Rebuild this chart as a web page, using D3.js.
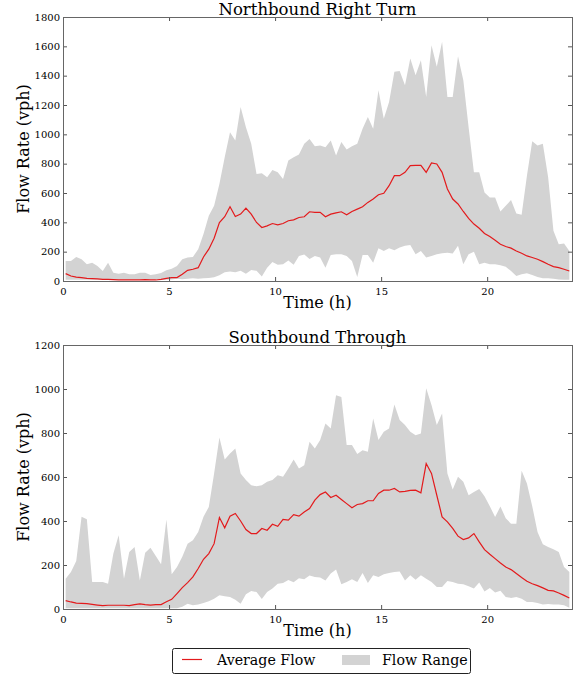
<!DOCTYPE html>
<html lang="en">
<head>
<meta charset="utf-8" />
<title>Flow Rate</title>
<script src="https://cdn.jsdelivr.net/npm/d3@7"></script>
<style>
  body { margin: 0; background: #fff; }
  text { font-family: "DejaVu Serif", serif; fill: #000; }
</style>
</head>
<body>
<svg id="chart" width="576" height="679"></svg>
<script>
// 15-minute bins over the day, plotted at bin centres
const times = d3.range(96).map(i => 0.125 + i * 0.25);
const xTicks = [0, 5, 10, 15, 20];

// Northbound Right Turn
const nbMean = [50,34,27,23,18,16,14,11,11,9,7,7,7,7,7,9,7,7,11,18,23,23,46,73,80,91,164,217,292,399,438,506,
  440,456,497,456,399,365,376,392,383,392,411,417,433,438,472,468,468,438,456,465,472,452,474,490,506,536,559,588,598,650,
  718,718,741,787,789,789,741,805,798,741,627,559,525,474,427,388,360,324,303,278,251,235,224,205,189,171,160,148,132,114,98,91,80,68];
const nbMax = [137,137,164,148,114,125,103,68,125,57,50,57,46,46,57,57,41,46,55,73,84,103,148,160,164,217,320,445,513,661,844,1015,
  958,1186,1049,935,730,734,707,757,741,696,821,844,862,935,969,919,924,912,958,855,947,896,919,935,1038,1118,1038,1300,1106,1220,
  1426,1432,1334,1517,1403,1505,1254,1608,1460,1631,1254,1254,1533,1369,1049,741,741,604,570,570,474,513,552,461,452,718,953,924,935,707,342,251,255,205];
const nbMin = [8,8,8,8,8,8,8,8,8,8,8,8,8,8,8,8,8,8,8,8,10,15,12,15,18,15,18,20,25,40,60,65,
  60,70,50,75,70,30,90,130,110,115,140,110,170,180,150,171,160,91,178,182,182,171,137,27,178,178,125,224,205,224,
  210,228,240,246,182,205,160,171,182,189,192,187,240,114,182,200,114,125,114,114,107,98,68,34,46,52,41,27,18,18,16,11,9,9];
const nbTicks = d3.range(0, 1801, 200);

// Southbound Through
const sbMean = [38,32,27,26,24,21,18,15,17,17,17,17,15,20,23,20,18,20,20,33,44,70,97,120,146,184,226,252,297,416,369,422,
  434,400,361,343,343,366,358,385,376,407,404,429,422,441,457,495,520,532,507,517,498,479,460,475,479,492,492,525,540,540,
  548,532,535,539,540,528,661,616,517,419,396,366,331,316,323,343,305,270,249,229,209,191,179,161,143,126,115,106,96,85,82,73,62,50];
const sbMax = [138,168,218,419,408,123,123,123,115,252,335,138,259,282,130,256,278,241,203,407,158,191,237,297,312,350,419,464,616,780,680,707,
  730,616,586,563,558,563,578,586,608,601,639,680,639,653,760,730,768,843,821,972,964,745,745,704,722,715,866,768,806,821,
  930,859,836,806,790,798,1003,927,836,889,616,543,601,578,517,532,545,513,467,418,466,412,388,388,628,570,467,350,294,282,272,259,191,168];
const sbMin = [3,3,3,3,3,3,3,3,3,3,3,3,3,3,3,3,3,3,3,3,3,3,10,24,17,20,27,35,47,62,58,55,
  42,24,67,82,77,45,77,93,115,118,132,122,140,135,152,146,143,130,161,179,112,123,135,123,164,118,153,146,158,164,
  168,171,130,153,133,153,138,123,100,100,127,123,115,112,103,93,120,80,95,75,83,55,50,55,47,32,32,27,21,23,20,21,17,6];
const sbTicks = d3.range(0, 1201, 200);

const panels = [
  { title: "Northbound Right Turn", mean: nbMean, max: nbMax, min: nbMin, yMax: 1800, yTicks: nbTicks, top: 17, bottom: 281 },
  { title: "Southbound Through", mean: sbMean, max: sbMax, min: sbMin, yMax: 1200, yTicks: sbTicks, top: 345, bottom: 609 }
];

const svg = d3.select("#chart");
const left = 63, right = 572;
const x = d3.scaleLinear().domain([0, 24]).range([left, right]);
const rangeColor = "#d3d3d3";
const meanColor = "#e31a1c";
const tickLen = 4;

panels.forEach(p => {
  const y = d3.scaleLinear().domain([0, p.yMax]).range([p.bottom, p.top]);
  const g = svg.append("g");

  const area = d3.area()
    .x((d, i) => x(times[i]))
    .y0((d, i) => y(p.min[i]))
    .y1(d => y(d));
  g.append("path")
    .datum(p.max)
    .attr("d", area)
    .attr("fill", rangeColor);

  const line = d3.line()
    .x((d, i) => x(times[i]))
    .y(d => y(d));
  g.append("path")
    .datum(p.mean)
    .attr("d", line)
    .attr("fill", "none")
    .attr("stroke", meanColor)
    .attr("stroke-width", 1.2);

  // axes with inward ticks on all four sides
  const axB = d3.axisBottom(x).tickValues(xTicks).tickSizeInner(-tickLen).tickSizeOuter(0).tickPadding(7);
  const axT = d3.axisTop(x).tickValues(xTicks).tickSizeInner(-tickLen).tickSizeOuter(0).tickFormat("");
  const axL = d3.axisLeft(y).tickValues(p.yTicks).tickFormat(d3.format("d"))
    .tickSizeInner(-tickLen).tickSizeOuter(0).tickPadding(3);
  const axR = d3.axisRight(y).tickValues(p.yTicks).tickSizeInner(-tickLen).tickSizeOuter(0).tickFormat("");

  const gb = g.append("g").attr("transform", `translate(0,${p.bottom})`).call(axB);
  g.append("g").attr("transform", `translate(0,${p.top})`).call(axT);
  const gl = g.append("g").attr("transform", `translate(${left},0)`).call(axL);
  g.append("g").attr("transform", `translate(${right},0)`).call(axR);
  g.selectAll(".domain").remove();
  g.selectAll(".tick line").attr("stroke", "#555");
  [gb, gl].forEach(a => a.selectAll("text")
    .style("font-family", "DejaVu Serif").style("font-size", "10px").attr("fill", "#000"));

  g.append("rect")
    .attr("x", left).attr("y", p.top)
    .attr("width", right - left).attr("height", p.bottom - p.top)
    .attr("fill", "none").attr("stroke", "#666").attr("stroke-width", 1)
    .attr("shape-rendering", "crispEdges");

  g.append("text")
    .attr("x", (left + right) / 2).attr("y", p.top - 2)
    .attr("text-anchor", "middle")
    .style("font-size", "16.5px")
    .text(p.title);

  g.append("text")
    .attr("x", (left + right) / 2).attr("y", p.bottom + 27)
    .attr("text-anchor", "middle")
    .style("font-size", "16px")
    .text("Time (h)");

  g.append("text")
    .attr("transform", `translate(29,${(p.top + p.bottom) / 2}) rotate(-90)`)
    .attr("text-anchor", "middle")
    .style("font-size", "16px")
    .text("Flow Rate (vph)");
});

// legend
const lg = svg.append("g").attr("transform", "translate(172,648)");
lg.append("rect")
  .attr("x", 0.5).attr("y", 0.5).attr("width", 298).attr("height", 25).attr("rx", 2)
  .attr("fill", "#fff").attr("stroke", "#222");
lg.append("line")
  .attr("x1", 10).attr("x2", 30).attr("y1", 11.5).attr("y2", 11.5)
  .attr("stroke", meanColor).attr("stroke-width", 1.2);
lg.append("text").attr("x", 45).attr("y", 17).style("font-size", "14.2px").text("Average Flow");
lg.append("rect")
  .attr("x", 170).attr("y", 7).attr("width", 28).attr("height", 10)
  .attr("fill", rangeColor);
lg.append("text").attr("x", 210).attr("y", 17).style("font-size", "14.2px").text("Flow Range");
</script>
</body>
</html>
